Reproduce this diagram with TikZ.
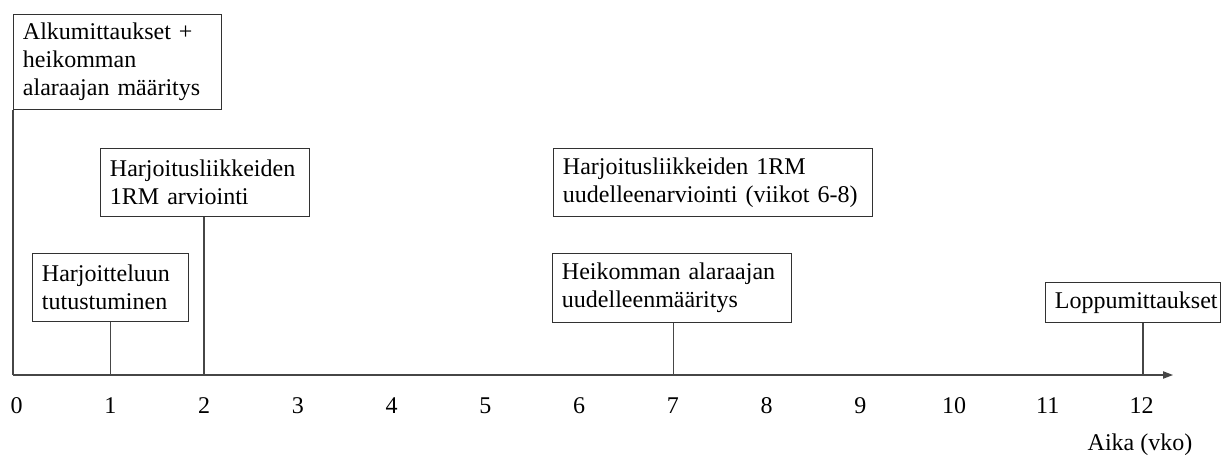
\documentclass[tikz,border=0pt]{standalone}
\usepackage{fontspec}
\setmainfont{Liberation Serif}
\usepackage{tikz}
\usetikzlibrary{arrows.meta, positioning, calc}
\usepackage{xcolor}
\definecolor{linegray}{RGB}{70,70,70}
\definecolor{boxgray}{RGB}{50,50,50}

\begin{document}
\begin{tikzpicture}[x=0.75pt, y=-0.75pt,
  vaihe/.style={draw=boxgray, line width=0.9pt, anchor=north west, align=left,
    inner xsep=7pt, inner ysep=3pt, font=\fontsize{18}{21}\selectfont},
  yhteys/.style={draw=linegray, line width=0.9pt},
  luku/.style={font=\fontsize{18}{21}\selectfont}]
  \useasboundingbox (0,0) rectangle (1222,457);
  % Axis
  \foreach \i in {1,...,12}
    \coordinate (t\i) at ({16.2+93.9*\i}, 375);
  \coordinate (t0) at (13, 375);
  \coordinate (akseli) at (1173, 375);
  \draw[yhteys, -{Triangle[length=7.5pt, width=5.5pt]}] (t0) -- (akseli);
  % Week numbers
  \foreach \i in {0,...,12}
    \node[luku] (n\i) at ({16.5+93.75*\i}, 406) {\i};
  \node[luku] (aika) at (1140, 445) {Aika (vko)};
  % Boxes
  \node[vaihe, text width=142pt, minimum height=95*0.75pt] (alku) at (13, 14)
    {Alkumittaukset +\\heikomman\\alaraajan määritys};
  \node[vaihe, text width=142.75pt, minimum height=68*0.75pt] (arvio) at (100, 148)
    {Harjoitusliikkeiden\\1RM arviointi};
  \node[vaihe, text width=103pt, minimum height=68*0.75pt] (tutust) at (32, 253)
    {Harjoitteluun\\tutustuminen};
  \node[vaihe, text width=225.25pt, minimum height=68*0.75pt] (uudarvio) at (553, 148)
    {Harjoitusliikkeiden 1RM\\uudelleenarviointi (viikot 6-8)};
  \node[vaihe, text width=165.25pt, minimum height=69*0.75pt] (uudmaar) at (552, 253)
    {Heikomman alaraajan\\uudelleenmääritys};
  \node[vaihe, text width=117.25pt, minimum height=40*0.75pt] (loppu) at (1045, 282)
    {Loppumittaukset};
  % Connectors
  \draw[yhteys] (t0) -- (t0 |- alku.south);
  \draw[yhteys] (t1) -- (t1 |- tutust.south);
  \draw[yhteys] (t2) -- (t2 |- arvio.south);
  \draw[yhteys] (t7) -- (t7 |- uudmaar.south);
  \draw[yhteys] (t12) -- (t12 |- loppu.south);
\end{tikzpicture}
\end{document}
